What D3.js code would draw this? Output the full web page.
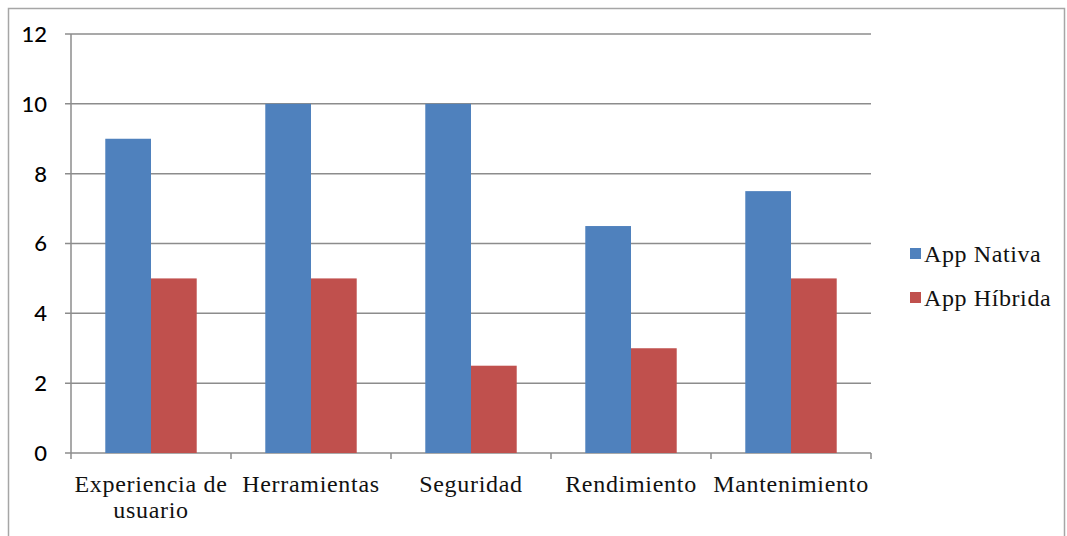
<!DOCTYPE html>
<html>
<head>
<meta charset="utf-8">
<script src="https://cdn.jsdelivr.net/npm/d3@7"></script>
<style>
  html, body { margin: 0; padding: 0; background: #fff; }
  svg { display: block; }
</style>
</head>
<body>
<svg id="chart" width="1067" height="536"></svg>
<script>
// Comparison scores: native vs hybrid apps
const categories = [["Experiencia de", "usuario"], ["Herramientas"], ["Seguridad"], ["Rendimiento"], ["Mantenimiento"]];
const seriesNames = ["App Nativa", "App Híbrida"];
const nativaValues = [9, 10, 10, 6.5, 7.5];
const hibridaValues = [5, 5, 2.5, 3, 5];
const yTicks = [0, 2, 4, 6, 8, 10, 12];
const colors = ["#4F81BD", "#C0504D"];

const svg = d3.select("#chart");
const W = 1067, H = 536;
const serif = "'Liberation Serif', 'DejaVu Serif', serif";

// outer frame (open at the bottom)
svg.append("path")
  .attr("d", `M8.5,${H} V8.5 H1064.5 V${H}`)
  .attr("fill", "none")
  .attr("stroke", "#a6a6a6")
  .attr("stroke-width", 1.5);

const plot = { left: 71, right: 871, top: 34, bottom: 453 };

const keys = categories.map(c => c.join(" "));
const x = d3.scaleBand().domain(keys).range([plot.left, plot.right]).padding(0);
const y = d3.scaleLinear().domain([0, 12]).range([plot.bottom, plot.top]);
const inner = d3.scaleBand().domain(seriesNames)
  .range([0, x.bandwidth() / 1.75]).padding(0);
const groupOffset = (x.bandwidth() - x.bandwidth() / 1.75) / 2;

// horizontal gridlines
svg.append("g")
  .selectAll("line")
  .data(yTicks)
  .join("line")
  .attr("x1", plot.left - 6)
  .attr("x2", plot.right)
  .attr("y1", d => y(d))
  .attr("y2", d => y(d))
  .attr("stroke", "#8c8c8c")
  .attr("stroke-width", 1.5);

// y axis line
svg.append("line")
  .attr("x1", plot.left).attr("x2", plot.left)
  .attr("y1", plot.top).attr("y2", plot.bottom)
  .attr("stroke", "#8c8c8c").attr("stroke-width", 1.5);

// y tick labels
svg.append("g")
  .selectAll("text")
  .data(yTicks)
  .join("text")
  .attr("x", 47)
  .attr("y", d => y(d))
  .attr("dy", "0.36em")
  .attr("text-anchor", "end")
  .attr("font-family", "Lato, 'Open Sans', sans-serif")
  .attr("font-size", 22)
  .attr("font-weight", 500)
  .attr("fill", "#000")
  .text(d => d);

// bars
const rows = keys.map((k, i) => ({ key: k, values: [nativaValues[i], hibridaValues[i]] }));
svg.append("g")
  .selectAll("g")
  .data(rows)
  .join("g")
  .attr("transform", d => `translate(${x(d.key) + groupOffset},0)`)
  .selectAll("rect")
  .data(d => d.values.map((v, j) => ({ name: seriesNames[j], value: v, j })))
  .join("rect")
  .attr("x", d => inner(d.name))
  .attr("width", inner.bandwidth())
  .attr("y", d => y(d.value))
  .attr("height", d => y(0) - y(d.value))
  .attr("fill", d => colors[d.j]);

// x axis tick marks at band boundaries
const xEdges = keys.map(k => x(k)).concat([plot.right]);
svg.append("g")
  .selectAll("line")
  .data(xEdges)
  .join("line")
  .attr("x1", d => d).attr("x2", d => d)
  .attr("y1", plot.bottom).attr("y2", plot.bottom + 6)
  .attr("stroke", "#8c8c8c").attr("stroke-width", 1.5);

// category labels
const labels = svg.append("g")
  .selectAll("text")
  .data(categories)
  .join("text")
  .attr("x", (d, i) => x(keys[i]) + x.bandwidth() / 2)
  .attr("y", 492)
  .attr("text-anchor", "middle")
  .attr("font-family", serif)
  .attr("font-size", 24)
  .attr("letter-spacing", 0.7)
  .attr("fill", "#111");
labels.selectAll("tspan")
  .data((d, i) => d.map(line => ({ line, cx: x(keys[i]) + x.bandwidth() / 2 })))
  .join("tspan")
  .attr("x", d => d.cx)
  .attr("dy", (d, k) => k === 0 ? 0 : 26)
  .text(d => d.line);

// legend
const legend = svg.append("g")
  .selectAll("g")
  .data(seriesNames)
  .join("g")
  .attr("transform", (d, i) => `translate(910,${248 + i * 44})`);
legend.append("rect")
  .attr("width", 11).attr("height", 11)
  .attr("fill", (d, i) => colors[i]);
legend.append("text")
  .attr("x", 14)
  .attr("y", 14)
  .attr("font-family", serif)
  .attr("font-size", 24)
  .attr("letter-spacing", 0.6)
  .attr("fill", "#111")
  .text(d => d);
</script>
</body>
</html>
